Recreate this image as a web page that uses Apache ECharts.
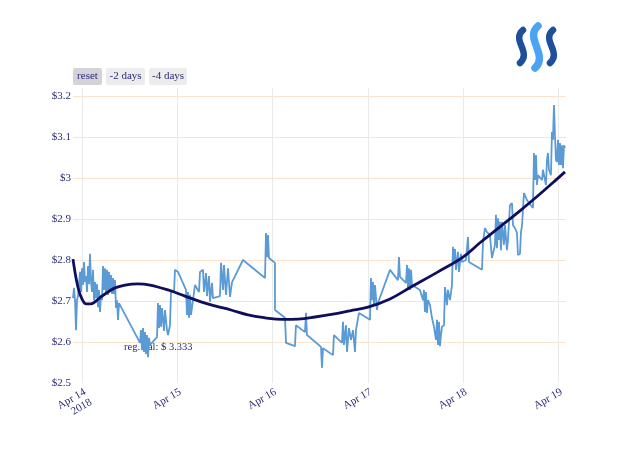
<!DOCTYPE html>
<html>
<head>
<meta charset="utf-8">
<script src="https://cdn.jsdelivr.net/npm/echarts@6/dist/echarts.min.js"></script>
<style>html,body{margin:0;padding:0;background:#fff}#c{width:640px;height:457px}</style>
</head>
<body>
<div id="c"></div>
<script>
// hours since Apr 14 2018 00:00
var priceHours = [-2.27,-2.01,-1.76,-1.51,-1.26,-1.01,-0.50,-0.25,0,0.25,0.50,0.76,1.01,1.26,1.51,1.76,2.01,2.27,2.52,2.77,3.02,3.27,3.53,3.78,4.03,4.28,4.53,4.78,5.04,5.29,5.54,5.79,6.04,6.30,6.55,6.80,7.05,7.30,7.56,7.81,8.06,8.31,8.56,8.81,9.07,9.32,
14.61,14.86,15.12,15.37,15.61,15.87,16.12,16.37,16.62,16.87,17.13,18.89,19.14,19.39,19.64,19.90,20.15,20.65,20.90,21.41,21.66,22.16,22.41,23.17,23.42,24.18,
26.19,26.44,26.70,26.95,27.20,27.45,27.95,28.46,29.47,29.72,30.47,30.72,31.23,31.48,31.98,32.24,32.74,32.99,34.75,35.01,35.51,35.76,36.26,36.77,37.27,37.78,40.55,
46.09,46.34,46.59,46.84,47.09,48.60,48.61,51.12,51.38,53.64,53.89,56.16,56.41,56.66,60.19,60.44,60.69,63.21,
63.46,65.48,65.73,65.98,66.49,66.74,67.24,67.74,68.25,68.75,69.00,69.76,72.53,72.78,73.03,73.29,73.54,73.79,74.29,74.54,77.57,79.58,79.83,80.09,81.60,81.85,82.10,82.35,82.60,82.86,83.11,
85.12,85.88,86.13,86.38,86.63,86.88,87.14,87.64,88.14,88.65,89.15,89.40,89.66,89.91,90.16,90.41,90.66,91.17,91.42,91.92,92.17,92.68,93.18,93.43,93.68,93.94,94.19,94.69,94.94,95.45,95.70,
96.71,97.21,97.46,100.74,100.99,101.49,101.99,102.75,103.25,104.01,104.26,104.51,104.77,105.02,105.27,105.52,105.77,106.28,106.53,107.03,107.28,107.79,108.29,108.54,109.05,109.55,109.80,110.31,110.56,110.81,111.31,112.07,
113.58,113.83,114.08,114.34,114.59,114.84,115.85,116.10,116.85,117.11,117.36,117.61,118.11,118.36,118.62,118.87,119.12,119.37,119.62,119.88,120.13,120.38,120.63,120.88,121.14,121.39,121.64];
var priceValues = [2.707,2.732,2.702,2.629,2.702,2.712,2.771,2.722,2.780,2.739,2.795,2.746,2.761,2.722,2.785,2.741,2.815,2.746,2.722,2.776,2.702,2.746,2.707,2.741,2.685,2.727,2.673,2.715,2.702,2.785,2.727,2.780,2.720,2.776,2.715,2.771,2.722,2.763,2.717,2.756,2.717,2.751,2.683,2.702,2.654,2.695,
2.598,2.629,2.580,2.634,2.576,2.624,2.571,2.617,2.563,2.610,2.593,2.612,2.695,2.634,2.690,2.637,2.683,2.627,2.678,2.629,2.617,2.641,2.722,2.722,2.776,2.771,
2.727,2.666,2.722,2.659,2.715,2.666,2.702,2.739,2.722,2.771,2.776,2.722,2.768,2.712,2.761,2.698,2.744,2.707,2.712,2.793,2.727,2.788,2.715,2.780,2.710,2.746,2.800,
2.756,2.866,2.807,2.861,2.805,2.793,2.678,2.659,2.598,2.590,2.641,2.624,2.671,2.617,2.588,2.537,2.585,2.568,
2.617,2.598,2.649,2.593,2.641,2.576,2.634,2.605,2.629,2.576,2.629,2.671,2.654,2.756,2.702,2.746,2.690,2.739,2.678,2.695,2.776,2.751,2.807,2.759,2.744,2.788,2.732,2.780,2.727,2.776,2.739,
2.727,2.702,2.727,2.673,2.722,2.671,2.702,2.690,2.659,2.637,2.605,2.654,2.593,2.649,2.590,2.617,2.637,2.641,2.734,2.690,2.727,2.702,2.739,2.832,2.795,2.827,2.776,2.820,2.771,2.815,2.795,
2.800,2.856,2.795,2.776,2.844,2.878,2.868,2.861,2.805,2.837,2.910,2.829,2.902,2.849,2.893,2.824,2.893,2.837,2.885,2.824,2.849,2.934,2.939,2.885,2.878,2.866,2.812,2.815,2.868,2.883,2.963,2.946,
2.927,3.061,2.995,3.056,2.983,3.007,2.995,3.020,2.983,3.044,3.061,3.020,3.007,3.112,3.093,3.178,3.105,3.044,3.039,3.093,3.032,3.085,3.032,3.080,3.024,3.080,3.073];

var regHours = [-2.27,-1.51,-0.76,0,1.01,2.27,3.53,4.78,6.55,8.31,10.83,14.10,17.13,21.66,25.94,29.97,33.49,37.52,41.81,46.09,50.37,54.40,58.68,63.21,67.49,72.03,77.57,82.86,89.66,95.95,100.23,105.27,110.30,115.34,119.12,121.64];
var regValues = [2.802,2.756,2.724,2.705,2.693,2.693,2.700,2.710,2.722,2.732,2.739,2.742,2.739,2.727,2.712,2.698,2.688,2.678,2.666,2.659,2.655,2.656,2.661,2.668,2.676,2.685,2.705,2.734,2.771,2.807,2.842,2.881,2.920,2.961,2.993,3.015];

var tickHours = [0,24,48,72,96,120];
var tickLabels = ['Apr 14\n2018','Apr 15','Apr 16','Apr 17','Apr 18','Apr 19'];
var buttonLabels = ['reset','-2 days','-4 days'];
var annotationText = 'reg. val: $ 3.333';

var txt = '#2b2b7b';
var font = 'Liberation Serif';

function pairs(xs, ys){ var o=[]; for(var i=0;i<xs.length;i++) o.push([xs[i], ys[i]]); return o; }

var chart = echarts.init(document.getElementById('c'), null, {renderer:'canvas'});

var btnX = [73,106,149], btnW = [29,39,38];
var graphics = [];
buttonLabels.forEach(function(l,i){
  graphics.push({type:'rect', shape:{x:btnX[i], y:68, width:btnW[i], height:17, r:2},
    style:{fill: i===0 ? '#d4d4d8' : '#ececec'}});
  graphics.push({type:'text', x:btnX[i]+btnW[i]/2, y:76.5,
    style:{text:l, fill:txt, font:'11px "'+font+'"', align:'center', verticalAlign:'middle'}});
});
graphics.push({type:'text', x:124, y:347, z:1,
  style:{text:annotationText, fill:txt, font:'10.5px "'+font+'"', verticalAlign:'middle'}});
// logo
var strokes = [
  {p:[523,30,511,40,532,52,520,63], c:'#1f4f9a', w:6.5},
  {p:[538,26,524,38,549,55,535,68], c:'#4ba3f2', w:7.5},
  {p:[553,30,541,40,562,52,550,63], c:'#1f4f9a', w:6.5}
];
strokes.forEach(function(s){
  graphics.push({type:'bezierCurve', shape:{x1:s.p[0],y1:s.p[1],cpx1:s.p[2],cpy1:s.p[3],cpx2:s.p[4],cpy2:s.p[5],x2:s.p[6],y2:s.p[7]},
    style:{stroke:s.c, lineWidth:s.w, fill:null, lineCap:'round'}});
});

chart.setOption({
  animation:false,
  backgroundColor:'#fff',
  grid:{left:73, right:74, top:88, bottom:74, containLabel:false},
  xAxis:{
    type:'value', min:-2.27, max:121.9,
    axisLine:{show:false}, axisTick:{show:false, customValues:tickHours},
    axisLabel:{customValues:tickHours, rotate:30, margin:3, verticalAlign:'top', color:txt, fontFamily:font, fontSize:11, lineHeight:12,
      formatter:function(v){ var i=tickHours.indexOf(Math.round(v)); return i>=0?tickLabels[i]:''; }},
    splitLine:{show:true, lineStyle:{color:'#eaeaea', width:1}}
  },
  yAxis:{
    type:'value', min:2.5, max:3.2195, interval:0.1,
    axisLine:{show:false}, axisTick:{show:false},
    axisLabel:{margin:2, color:txt, fontFamily:font, fontSize:11, showMaxLabel:false,
      formatter:function(v){ return '$' + (Math.round(v*10)/10); }},
    splitLine:{show:true, showMinLine:false, showMaxLine:false, lineStyle:{color:'#fce4cc', width:1}}
  },
  graphic:graphics,
  series:[
    {type:'line', data:pairs(priceHours, priceValues), showSymbol:false, symbol:'none',
      lineStyle:{color:'#5b9bd5', width:1.8}, z:3},
    {type:'line', data:pairs(regHours, regValues), showSymbol:false, symbol:'none', smooth:0.4,
      lineStyle:{color:'#0e0e5c', width:2.8}, z:4}
  ]
});
</script>
</body>
</html>
